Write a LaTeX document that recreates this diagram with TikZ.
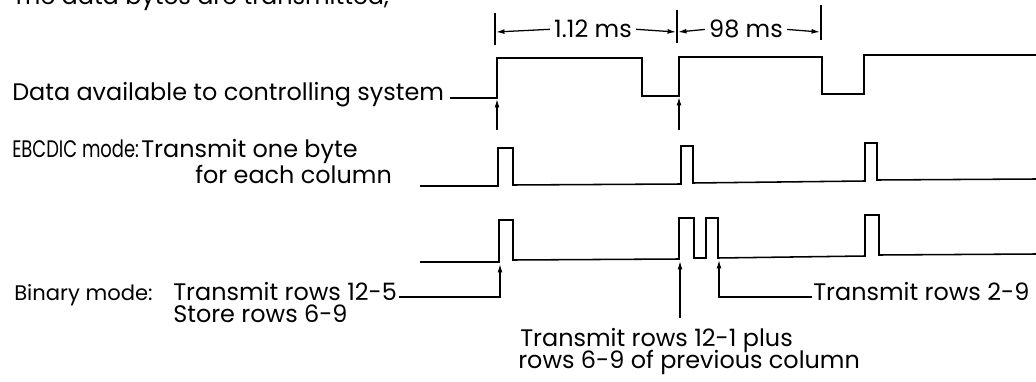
\documentclass[tikz,border=0pt]{standalone}
\usepackage{fontspec}
\setmainfont{Poppins}
\usetikzlibrary{arrows.meta, positioning, calc}
\tikzset{
  sinal/.style={line width=1.1pt, line join=miter},
  seta/.style={-{Latex[length=6pt,width=3.5pt]}, line width=0.9pt},
  marca/.style={line width=1pt},
  rotulo/.style={font=\fontsize{17}{19}\selectfont, inner sep=0pt, anchor=base west},
  rotuloC/.style={rotulo, anchor=base},
  rotuloP/.style={rotulo, font=\fontsize{15}{17}\selectfont},
  estreito/.style={font=\fontsize{17}{19}\selectfont\addfontfeature{FakeStretch=0.75}},
}

\begin{document}
\begin{tikzpicture}[x=0.025cm, y=-0.025cm]
        \fill[white] (0,0) rectangle (1036,381);
        \useasboundingbox (0,0) rectangle (1036,381);

        % frase cortada no topo
        \node[rotulo] (topo) at (12,5) {The data bytes are transmitted,};

        % cotas de tempo
        \draw[marca] (495,13) -- (495,45);
        \draw[marca] (677,10) -- (677,43);
        \draw[marca] (821,5) -- (821,40);
        \coordinate (ca) at (496,32);
        \coordinate (cb) at (676,32);
        \coordinate (cc) at (678,32);
        \coordinate (cd) at (820,32);
        \node[rotuloC] (t112) at (593,38) {1.12 ms};
        \node[rotuloC] (t98) at (746,38) {98 ms};
        \draw[seta] ($(t112.west)+(-4,0)$) -- (ca);
        \draw[seta] ($(t112.east)+(4,0)$) -- (cb);
        \draw[seta] ($(t98.west)+(-4,0)$) -- (cc);
        \draw[seta] ($(t98.east)+(4,0)$) -- (cd);

        % dados disponiveis
        \node[rotulo] (dav) at (12,100) {Data available to controlling system};
        \draw[sinal] ($(dav.base east)+(6,-2)$) -- (497,98) -- (497,58) -- (642,58)
          -- (642,96) -- (679,96) -- (679,57) -- (822,57) -- (822,94) -- (864,94)
          -- (864,55) -- (1036,55);
        \coordinate (da1) at (497,130);
        \coordinate (da2) at (679,130);
        \draw[seta] (da1) -- (497,99);
        \draw[seta] (da2) -- (679,97);

        % modo EBCDIC
        \node[rotulo, estreito] (ebc) at (12,157) {EBCDIC mode:};
        \node[rotulo] (ebc1) at (141,157) {Transmit one byte};
        \node[rotulo] (ebc2) at (195,183) {for each column};
        \draw[sinal] (420,186) -- (498,186) -- (498,148) -- (513,148) -- (513,185)
          -- (681,184) -- (681,146) -- (693,146) -- (693,183) -- (865,181)
          -- (865,143) -- (877,143) -- (877,180) -- (1036,179);

        % modo binario
        \node[rotuloP] (bin) at (14,300) {Binary mode:};
        \node[rotulo] (bin1) at (173,300) {Transmit rows 12-5};
        \node[rotulo] (bin2) at (173,322) {Store rows 6-9};
        \node[rotulo] (bin3) at (520,346) {Transmit rows 12-1 plus};
        \node[rotulo] (bin4) at (518,368) {rows 6-9 of previous column};
        \node[rotulo] (bin5) at (813,300) {Transmit rows 2-9};
        \draw[sinal] (420,262) -- (499,262) -- (499,220) -- (513,220) -- (513,260)
          -- (679,259) -- (679,218) -- (694,218) -- (694,258) -- (706,258)
          -- (706,218) -- (718,218) -- (718,258) -- (865,256) -- (865,215)
          -- (879,215) -- (879,255) -- (1036,254);
        \coordinate (pb1) at (500,264);
        \coordinate (pb2) at (680,261);
        \coordinate (pb3) at (719,260);
        \coordinate (bb2) at (680,318);
        \draw[seta] ($(bin1.base east)+(2,-3)$) -| (pb1);
        \draw[seta] (bb2) -- (pb2);
        \draw[seta] ($(bin5.base west)+(-1,-3)$) -| (pb3);
      \end{tikzpicture}
\end{document}
